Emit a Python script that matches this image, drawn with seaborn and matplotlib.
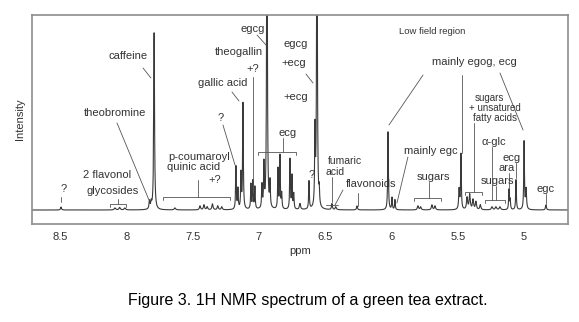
import numpy as np
import pandas as pd
import matplotlib
matplotlib.use("Agg")
import matplotlib.pyplot as plt
import seaborn as sns

# ---- data (ppm, relative intensity, half-width in ppm) ----
peak_ppm = [8.492, 8.085, 8.05, 8.01, 7.825, 7.812, 7.79,
            7.633, 7.444, 7.414, 7.39, 7.35, 7.31, 7.28,
            7.173, 7.158, 7.135, 7.12, 7.06, 7.045, 7.03,
            6.977, 6.962, 6.939, 6.916,
            6.856, 6.841, 6.828, 6.765, 6.75, 6.737, 6.69,
            6.622, 6.577, 6.562, 6.545,
            6.449, 6.42, 6.26,
            6.026, 5.996, 5.974,
            5.80, 5.78, 5.695, 5.672,
            5.49, 5.476,
            5.43, 5.41, 5.385, 5.363, 5.33,
            5.242, 5.212, 5.182,
            5.114, 5.105, 5.061, 5.0, 4.985, 4.835]
peak_height = [3, 2, 2.5, 2, 8, 6, 177,
               2, 4, 5, 3, 6, 4, 3,
               43, 20, 35, 106, 25, 28, 22,
               23, 43, 400, 25,
               40, 53, 15, 50, 33, 15, 6,
               28, 75, 400, 15,
               6, 3, 4,
               78, 12, 10,
               4, 3, 5, 4,
               20, 55,
               12, 15, 10, 8, 5,
               3, 3, 3,
               20, 10, 30, 68, 20, 5]
peak_width = [0.004, 0.006, 0.006, 0.006, 0.004, 0.004, 0.0035,
              0.006, 0.005, 0.005, 0.005, 0.005, 0.005, 0.005,
              0.003, 0.003, 0.003, 0.003, 0.003, 0.003, 0.003,
              0.003, 0.003, 0.003, 0.003,
              0.003, 0.003, 0.003, 0.003, 0.003, 0.003, 0.005,
              0.003, 0.003, 0.003, 0.003,
              0.004, 0.005, 0.004,
              0.003, 0.003, 0.003,
              0.005, 0.005, 0.005, 0.005,
              0.004, 0.003,
              0.005, 0.005, 0.005, 0.005, 0.005,
              0.006, 0.006, 0.006,
              0.003, 0.003, 0.003, 0.003, 0.004, 0.004]

x_ticks = [8.5, 8, 7.5, 7, 6.5, 6, 5.5, 5]
x_tick_labels = ["8.5", "8", "7.5", "7", "6.5", "6", "5.5", "5"]

# annotations: text, ppm, intensity, font size
labels = [
    ("caffeine", 7.99, 154, 8), ("theobromine", 8.085, 97, 8),
    ("2 flavonol", 8.146, 35, 8), ("glycosides", 8.10, 19, 8), ("?", 8.47, 21, 8),
    ("egcg", 7.045, 181, 8), ("theogallin", 7.15, 158, 8), ("+?", 7.045, 141, 8),
    ("gallic acid", 7.271, 127, 8), ("?", 7.286, 92, 8),
    ("egcg", 6.72, 166, 8), ("+ecg", 6.735, 147, 8), ("+ecg", 6.72, 113, 8),
    ("ecg", 6.781, 77, 8),
    ("p-coumaroyl", 7.452, 53, 8), ("quinic acid", 7.49, 43, 8), ("+?", 7.331, 30, 8),
    ("?", 6.60, 35, 8), ("fumaric", 6.351, 49, 7.5), ("acid", 6.426, 38, 7.5),
    ("flavonoids", 6.155, 26, 8),
    ("Low field region", 5.695, 178, 6.8),
    ("mainly egog, ecg", 5.374, 148, 8),
    ("sugars", 5.265, 112, 7), ("+ unsatured", 5.219, 102, 7), ("fatty acids", 5.219, 92, 7),
    ("\u03b1-glc", 5.227, 68, 8), ("sugars", 5.204, 29, 8), ("ara", 5.129, 42, 8),
    ("ecg", 5.091, 52, 8), ("egc", 4.835, 21, 8),
    ("mainly egc", 5.702, 59, 8), ("sugars", 5.687, 33, 8),
]
leaders = [
    ((7.874, 142), (7.814, 132)), ((8.070, 87), (7.829, 10)),
    ((8.492, 13), (8.492, 8)), ((7.014, 175), (6.946, 165)),
    ((7.045, 133), (7.045, 30)), ((7.203, 118), (7.150, 109)),
    ((7.271, 85), (7.180, 45)), ((6.645, 136), (6.592, 127)),
    ((6.449, 33), (6.449, 8)), ((6.494, 5), (6.403, 5)),
    ((6.366, 20), (6.426, 5)), ((6.253, 17), (6.253, 4)),
    ((5.762, 135), (6.019, 85)), ((5.468, 135), (5.468, 57)),
    ((5.182, 137), (5.008, 80)),
    ((5.242, 63), (5.242, 10)), ((5.114, 37), (5.114, 22)),
    ((5.061, 47), (5.061, 32)), ((4.835, 16), (4.835, 6)),
    ((5.876, 53), (5.959, 7)),
]
# brackets: left ppm, right ppm, level, stem ppm, stem top
brackets = [
    (8.123, 8.002, 6, 8.063, 11),
    (7.007, 6.720, 58, 6.818, 72),
    (7.723, 7.218, 13, 7.459, 30),
    (5.446, 5.318, 18, 5.378, 87),
    (5.295, 5.144, 10, 5.212, 24),
    (5.830, 5.627, 12, 5.717, 28),
]

# ---- build spectrum from the peak table ----
ppm = np.linspace(4.6, 8.8, 16000)
intensity = np.zeros_like(ppm)
for p, h, w in zip(peak_ppm, peak_height, peak_width):
    intensity += h * w**2 / ((ppm - p) ** 2 + w**2)
df = pd.DataFrame({"ppm": ppm, "Intensity": intensity})

sns.set_theme(style="white")
plt.rcParams["font.family"] = ["Liberation Sans", "DejaVu Sans"]

fig = plt.figure(figsize=(5.79, 3.22), dpi=100)
ax = fig.add_axes([32 / 579, 1 - 224 / 322, 536 / 579, 209 / 322])
sns.lineplot(data=df, x="ppm", y="Intensity", ax=ax, color="#3a3a3a",
             linewidth=0.8, estimator=None, sort=False)
ax.set_xlim(8.711, 4.669)
ax.set_ylim(-14, 195)
ax.set_xticks(x_ticks)
ax.set_xticklabels(x_tick_labels)
ax.set_yticks([])
ax.tick_params(axis="x", length=0, pad=6, labelsize=8, labelcolor="#333333")
ax.set_xlabel("ppm", fontsize=8, color="#333333", labelpad=3)
ax.set_ylabel("Intensity", fontsize=8, color="#333333", labelpad=5)
for s in ax.spines.values():
    s.set_visible(True)
    s.set_color("#8c8c8c")
    s.set_linewidth(1.2)

tc = "#333333"
lc = "#555555"
for t, xx, yy, fs in labels:
    ax.text(xx, yy, t, fontsize=fs, color=tc, ha="center", va="center")
for (x1, y1), (x2, y2) in leaders:
    ax.plot([x1, x2], [y1, y2], color=lc, linewidth=0.6)
for l, r, lev, sx, st in brackets:
    ax.plot([l, l, r, r], [lev - 3, lev, lev, lev - 3], color=lc, linewidth=0.6)
    ax.plot([sx, sx], [lev, st], color=lc, linewidth=0.6)

fig.text(308 / 579, 1 - 301 / 322, "Figure 3. 1H NMR spectrum of a green tea extract.",
         fontsize=11.5, color="black", ha="center", va="center")

fig.savefig("out.png", dpi=100)
